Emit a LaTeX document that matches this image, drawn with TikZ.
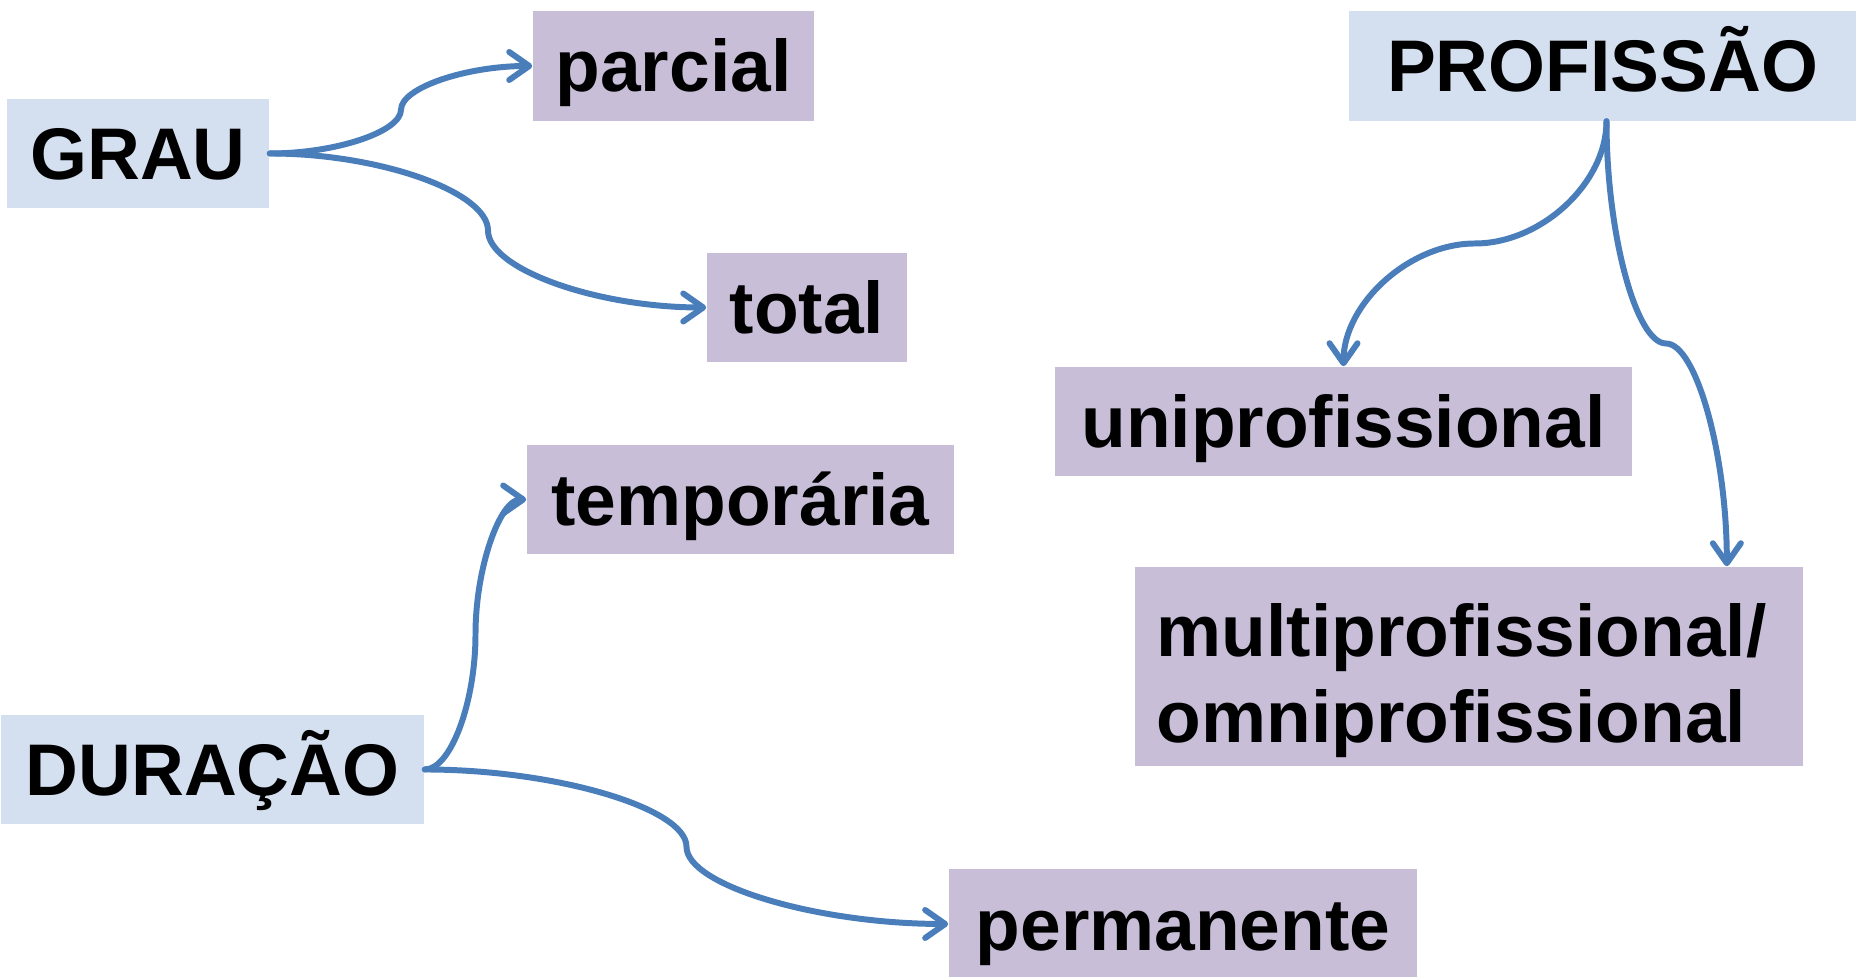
\documentclass[tikz,border=0pt]{standalone}
\usepackage{fontspec}
\setmainfont{Liberation Sans}
\usetikzlibrary{arrows.meta}
\definecolor{catblue}{HTML}{D4E0EF}
\definecolor{optpurple}{HTML}{C8BED8}
\definecolor{linkblue}{HTML}{4A7EBB}
\tikzstyle{category} = [rectangle, minimum height=1.09cm, inner sep=0pt, text height=0.52cm, text depth=0pt, text centered, fill=catblue, font=\bfseries\fontsize{20.8}{24.6}\selectfont]
\tikzstyle{option} = [rectangle, minimum height=1.09cm, inner sep=0pt, text height=0.52cm, text depth=0pt, text centered, fill=optpurple, font=\bfseries\fontsize{20.8}{24.6}\selectfont]
\tikzstyle{arrow} = [line width=1.7pt, draw=linkblue, line cap=round, -{Straight Barb[length=0.2cm, width=0.28cm, round]}]

\begin{document}
\begin{tikzpicture}[x=0.01cm, y=-0.01cm]
		\useasboundingbox (0,0) rectangle (1856,977);
		% Categories
		\node (grau) [category, minimum width=2.62cm] at (138,153.5) {GRAU};
		\node (profissao) [category, minimum width=5.07cm] at (1602.5,66) {PROFISSÃO};
		\node (duracao) [category, minimum width=4.23cm] at (212.5,769.5) {DURAÇÃO};
		% Options
		\node (parcial) [option, minimum width=2.81cm] at (673.5,66) {parcial};
		\node (total) [option, minimum width=2cm] at (807,307.5) {total};
		\node (uni) [option, minimum width=5.77cm] at (1343.5,421.5) {uniprofissional};
		\node (multi) [option, minimum height=1.99cm, text width=6.24cm, text depth=0.72cm, inner xsep=0.22cm, align=left] at (1469,666.5) {multiprofissional/\\omniprofissional};
		\node (temporaria) [option, minimum width=4.27cm] at (740.5,499.5) {temporária};
		\node (permanente) [option, minimum width=4.68cm] at (1183,924) {permanente};

		% Bends of the connectors
		\coordinate (gp) at (401,109.75);
		\coordinate (gt) at (488,230.5);
		\coordinate (ptop) at ([xshift=0.04cm]profissao.south);
		\coordinate (pu) at (1475,243.5);
		\coordinate (pm) at (1666,343.5);
		\coordinate (mtop) at ([xshift=-0.77cm]multi.north east);
		\coordinate (dt) at (475.5,634.5);
		\coordinate (dp) at (686.5,846.75);

		% Grau
		\draw [arrow] (grau.east) .. controls +(66,0) and +(0,22) .. (gp) .. controls +(0,-22) and +(-66,0) .. (parcial.west);
		\draw [arrow] (grau.east) .. controls +(110,0) and +(0,-38.5) .. (gt) .. controls +(0,38.5) and +(-110,0) .. (total.west);
		% Profissao
		\draw [arrow] (ptop) .. controls +(0,62) and +(66,0) .. (pu) .. controls +(-66,0) and +(0,-62) .. (uni.north);
		\draw [arrow] (ptop) .. controls +(0,112) and +(-30,0) .. (pm) .. controls +(30,0) and +(0,-112) .. (mtop);
		% Duracao
		\draw [arrow] (duracao.east) .. controls +(26,0) and +(0,67.5) .. (dt) .. controls +(0,-67.5) and +(-26,0) .. (temporaria.west);
		\draw [arrow] (duracao.east) .. controls +(131,0) and +(0,-38.6) .. (dp) .. controls +(0,38.6) and +(-131,0) .. (permanente.west);
	\end{tikzpicture}
\end{document}
